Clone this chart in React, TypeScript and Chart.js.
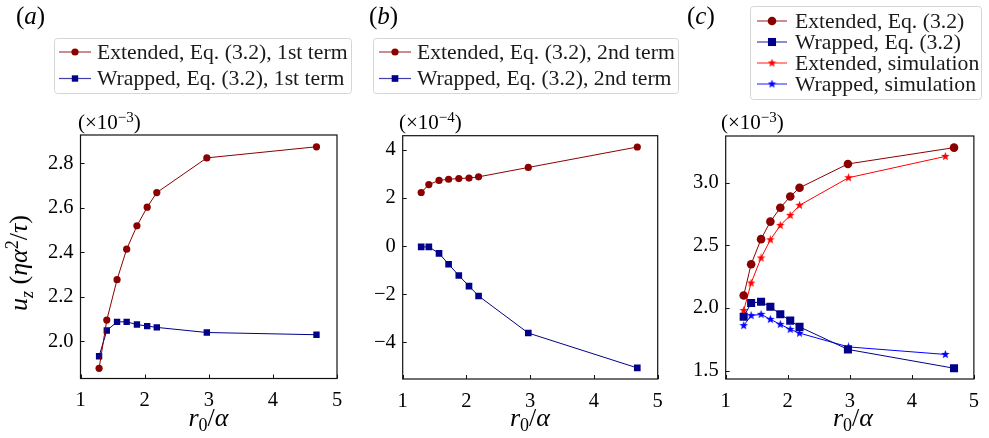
import React, { useEffect, useRef } from 'react';
import { Chart, registerables } from 'chart.js';

Chart.register(...registerables);

// ---------- data ----------
const xEq = [1.29, 1.41, 1.57, 1.72, 1.88, 2.04, 2.19, 2.97, 4.68];
const xSim = [1.29, 1.41, 1.57, 1.72, 1.88, 2.04, 2.19, 2.98, 4.54];

// panel (a), units of 1e-3
const aExtended = [1.878, 2.095, 2.277, 2.414, 2.519, 2.603, 2.669, 2.825, 2.875];
const aWrapped = [1.932, 2.048, 2.087, 2.087, 2.075, 2.068, 2.062, 2.039, 2.029];
// panel (b), units of 1e-4
const bExtended = [2.23, 2.56, 2.73, 2.78, 2.81, 2.83, 2.88, 3.27, 4.12];
const bWrapped = [-0.03, -0.03, -0.3, -0.75, -1.22, -1.66, -2.07, -3.61, -5.06];
// panel (c), units of 1e-3
const cExtended = [2.1, 2.35, 2.55, 2.69, 2.8, 2.89, 2.96, 3.15, 3.28];
const cWrapped = [1.93, 2.04, 2.05, 2.01, 1.95, 1.9, 1.85, 1.67, 1.52];
const cExtSim = [1.98, 2.2, 2.4, 2.545, 2.66, 2.74, 2.82, 3.04, 3.21];
const cWrapSim = [1.86, 1.94, 1.95, 1.91, 1.87, 1.83, 1.8, 1.69, 1.63];

const xTicks = [1, 2, 3, 4, 5];
const aTicks = [2.0, 2.2, 2.4, 2.6, 2.8];
const bTicks = [-4, -2, 0, 2, 4];
const cTicks = [1.5, 2.0, 2.5, 3.0];

const aLabels = ['Extended, Eq. (3.2), 1st term', 'Wrapped, Eq. (3.2), 1st term'];
const bLabels = ['Extended, Eq. (3.2), 2nd term', 'Wrapped, Eq. (3.2), 2nd term'];
const cLabels = ['Extended, Eq. (3.2)', 'Wrapped, Eq. (3.2)', 'Extended, simulation', 'Wrapped, simulation'];

const DARKRED = '#8b0000';
const DARKBLUE = '#00008b';
const RED = '#ff0000';
const BLUE = '#0000ff';

const FONT = "'Liberation Serif', 'Times New Roman', serif";

// ---------- helpers ----------
function makeStar(color: string, size: number) {
  const c = document.createElement('canvas');
  c.width = size;
  c.height = size;
  const g = c.getContext('2d')!;
  const cx = size / 2, cy = size / 2, R = size / 2, r = R * 0.42;
  g.beginPath();
  for (let i = 0; i < 10; i++) {
    const ang = -Math.PI / 2 + (i * Math.PI) / 5;
    const rad = i % 2 === 0 ? R : r;
    const px = cx + rad * Math.cos(ang), py = cy + rad * Math.sin(ang);
    if (i === 0) g.moveTo(px, py); else g.lineTo(px, py);
  }
  g.closePath();
  g.fillStyle = color;
  g.fill();
  return c;
}

function toPts(xs: number[], ys: number[]) {
  return xs.map((x, i) => ({ x, y: ys[i] }));
}

const framePlugin = {
  id: 'frame',
  afterDatasetsDraw(chart: any) {
    const { ctx, chartArea: a, scales } = chart;
    ctx.save();
    ctx.strokeStyle = '#111';
    ctx.lineWidth = 1.2;
    ctx.strokeRect(a.left, a.top, a.right - a.left, a.bottom - a.top);
    ctx.lineWidth = 1;
    ctx.beginPath();
    scales.x.ticks.forEach((t: any) => {
      const px = Math.round(scales.x.getPixelForValue(t.value)) + 0.5;
      ctx.moveTo(px, a.bottom);
      ctx.lineTo(px, a.bottom - 4);
    });
    scales.y.ticks.forEach((t: any) => {
      const py = Math.round(scales.y.getPixelForValue(t.value)) + 0.5;
      ctx.moveTo(a.left, py);
      ctx.lineTo(a.left + 4, py);
    });
    ctx.stroke();
    ctx.restore();
  },
};

function drawMarker(ctx: CanvasRenderingContext2D, style: any, r: number, x: number, y: number, color: string) {
  ctx.save();
  ctx.fillStyle = color;
  if (style === 'circle') {
    ctx.beginPath();
    ctx.arc(x, y, r, 0, Math.PI * 2);
    ctx.fill();
  } else if (style === 'rect') {
    const s = r * Math.SQRT1_2;
    ctx.fillRect(x - s, y - s, 2 * s, 2 * s);
  } else if (style && style.width) {
    ctx.drawImage(style, x - style.width / 2, y - style.height / 2);
  }
  ctx.restore();
}

const legendPlugin = {
  id: 'boxLegend',
  afterDraw(chart: any, _args: any, opts: any) {
    const { ctx } = chart;
    const { x, y, w, h, rows, lx0, lx1, tx } = opts;
    ctx.save();
    const rad = 3;
    ctx.beginPath();
    ctx.moveTo(x + rad, y);
    ctx.lineTo(x + w - rad, y);
    ctx.arcTo(x + w, y, x + w, y + rad, rad);
    ctx.lineTo(x + w, y + h - rad);
    ctx.arcTo(x + w, y + h, x + w - rad, y + h, rad);
    ctx.lineTo(x + rad, y + h);
    ctx.arcTo(x, y + h, x, y + h - rad, rad);
    ctx.lineTo(x, y + rad);
    ctx.arcTo(x, y, x + rad, y, rad);
    ctx.closePath();
    ctx.fillStyle = 'rgba(255,255,255,0.85)';
    ctx.fill();
    ctx.strokeStyle = '#d6d6d6';
    ctx.lineWidth = 1;
    ctx.stroke();
    chart.data.datasets.forEach((ds: any, i: number) => {
      const ry = rows[i];
      ctx.strokeStyle = ds.borderColor;
      ctx.globalAlpha = 0.75;
      ctx.lineWidth = 1.2;
      ctx.beginPath();
      ctx.moveTo(lx0, ry);
      ctx.lineTo(lx1, ry);
      ctx.stroke();
      ctx.globalAlpha = 1;
      drawMarker(ctx, ds.pointStyle, ds.pointRadius, (lx0 + lx1) / 2, ry, ds.backgroundColor);
      ctx.fillStyle = '#1a1a1a';
      ctx.font = `21.7px ${FONT}`;
      ctx.textBaseline = 'middle';
      ctx.textAlign = 'left';
      ctx.fillText(ds.label, tx, ry + 1);
    });
    ctx.restore();
  },
};

type PanelProps = {
  left: number;
  width: number;
  area: { l: number; r: number; t: number; b: number };
  yMin: number;
  yMax: number;
  yTicks: number[];
  yFmt: (v: number) => string;
  datasets: any[];
  legend: any;
};

function Panel(p: PanelProps) {
  const ref = useRef<HTMLCanvasElement | null>(null);
  useEffect(() => {
    const H = 438;
    const yAxisW = 40;
    const xAxisH = 40;
    const legend = { ...p.legend };
    legend.x -= p.left;
    legend.lx0 -= p.left;
    legend.lx1 -= p.left;
    legend.tx -= p.left;
    const chart = new Chart(ref.current!, {
      type: 'line',
      data: { datasets: p.datasets },
      options: {
        animation: false,
        responsive: false,
        maintainAspectRatio: false,
        events: [],
        layout: {
          padding: {
            left: p.area.l - p.left - yAxisW,
            right: p.left + p.width - p.area.r,
            top: p.area.t,
            bottom: H - p.area.b - xAxisH,
          },
        },
        plugins: {
          legend: { display: false },
          tooltip: { enabled: false },
          boxLegend: legend,
        } as any,
        scales: {
          x: {
            type: 'linear',
            min: 1,
            max: 5,
            grid: { display: false, drawTicks: false },
            border: { display: false },
            ticks: {
              padding: 10,
              color: '#000',
              font: { family: FONT, size: 20.5 },
              callback: (v: any) => String(v),
            },
            afterBuildTicks: (s: any) => {
              s.ticks = xTicks.map((v) => ({ value: v }));
            },
            afterFit: (s: any) => {
              s.height = xAxisH;
            },
          },
          y: {
            type: 'linear',
            min: p.yMin,
            max: p.yMax,
            grid: { display: false, drawTicks: false },
            border: { display: false },
            ticks: {
              padding: 7,
              color: '#000',
              font: { family: FONT, size: 20.5 },
              callback: (v: any) => p.yFmt(Number(v)),
            },
            afterBuildTicks: (s: any) => {
              s.ticks = p.yTicks.map((v) => ({ value: v }));
            },
            afterFit: (s: any) => {
              s.width = yAxisW;
            },
          },
        },
      },
      plugins: [framePlugin, legendPlugin],
    } as any);
    return () => chart.destroy();
  }, []);
  return (
    <canvas
      ref={ref}
      width={p.width}
      height={438}
      style={{ position: 'absolute', left: p.left, top: 0, width: p.width, height: 438 }}
    />
  );
}

function ds(label: string, xs: number[], ys: number[], color: string, style: any, r: number) {
  return {
    label,
    data: toPts(xs, ys),
    borderColor: color,
    backgroundColor: color,
    borderWidth: 1,
    pointStyle: style,
    pointRadius: r,
    pointBorderWidth: 0,
    tension: 0,
    fill: false,
  };
}

const mathI: React.CSSProperties = { fontStyle: 'italic' };

function ExpLabel({ left, top, exp }: { left: number; top: number; exp: string }) {
  return (
    <div style={{ position: 'absolute', left, top, fontFamily: FONT, fontSize: 21, lineHeight: '22px', whiteSpace: 'nowrap', color: '#000' }}>
      (×10<sup style={{ fontSize: 15, verticalAlign: 0, position: 'relative', top: -7 }}>{exp}</sup>)
    </div>
  );
}

function PanelTag({ left, letter }: { left: number; letter: string }) {
  return (
    <div style={{ position: 'absolute', left, top: 3, fontFamily: FONT, fontSize: 25, lineHeight: '26px', color: '#000' }}>
      (<span style={mathI}>{letter}</span>)
    </div>
  );
}

function XTitle({ center }: { center: number }) {
  return (
    <div
      style={{
        position: 'absolute',
        left: center,
        top: 404,
        transform: 'translateX(-50%)',
        fontFamily: FONT,
        fontSize: 26,
        lineHeight: '28px',
        whiteSpace: 'nowrap',
        color: '#000',
      }}
    >
      <span style={mathI}>r</span>
      <sub style={{ fontSize: 18, verticalAlign: 0, position: 'relative', top: 5 }}>0</sub>
      /<span style={mathI}>α</span>
    </div>
  );
}

export default function App() {
  const star = (c: string, s: number) => (typeof document !== 'undefined' ? makeStar(c, s) : 'star');
  const aSets = [
    ds(aLabels[0], xEq, aExtended, DARKRED, 'circle', 3.6),
    ds(aLabels[1], xEq, aWrapped, DARKBLUE, 'rect', 4.5),
  ];
  const bSets = [
    ds(bLabels[0], xEq, bExtended, DARKRED, 'circle', 3.6),
    ds(bLabels[1], xEq, bWrapped, DARKBLUE, 'rect', 4.7),
  ];
  const cSets = [
    ds(cLabels[0], xEq, cExtended, DARKRED, 'circle', 4.3),
    ds(cLabels[1], xEq, cWrapped, DARKBLUE, 'rect', 5.7),
    ds(cLabels[2], xSim, cExtSim, RED, star(RED, 9), 4.5),
    ds(cLabels[3], xSim, cWrapSim, BLUE, star(BLUE, 9), 4.5),
  ];
  return (
    <div style={{ position: 'absolute', left: 0, top: 0, width: 989, height: 438, background: '#fff', overflow: 'hidden' }}>
      <Panel
        left={0}
        width={360}
        area={{ l: 80.5, r: 337, t: 135, b: 378.5 }}
        yMin={1.832}
        yMax={2.928}
        yTicks={aTicks}
        yFmt={(v) => v.toFixed(1)}
        datasets={aSets}
        legend={{ x: 54.5, y: 38.5, w: 297, h: 55, rows: [52, 78.5], lx0: 59, lx1: 91, tx: 97 }}
      />
      <Panel
        left={360}
        width={325}
        area={{ l: 402.7, r: 657.7, t: 135.7, b: 379 }}
        yMin={-5.52}
        yMax={4.59}
        yTicks={bTicks}
        yFmt={(v) => (v < 0 ? '\u2212' + Math.abs(v) : String(v))}
        datasets={bSets}
        legend={{ x: 373.5, y: 38.5, w: 305, h: 55, rows: [52, 78.5], lx0: 379, lx1: 411, tx: 417 }}
      />
      <Panel
        left={685}
        width={304}
        area={{ l: 725.7, r: 980, t: 136, b: 379 }}
        yMin={1.434}
        yMax={3.373}
        yTicks={cTicks}
        yFmt={(v) => v.toFixed(1)}
        datasets={cSets}
        legend={{ x: 750.5, y: 6.5, w: 231, h: 93, rows: [21, 42, 63, 84], lx0: 757, lx1: 787, tx: 795 }}
      />
      <PanelTag left={16} letter="a" />
      <PanelTag left={369} letter="b" />
      <PanelTag left={687} letter="c" />
      <ExpLabel left={78} top={111} exp="−3" />
      <ExpLabel left={399} top={111} exp="−4" />
      <ExpLabel left={721} top={111} exp="−3" />
      <XTitle center={208.5} />
      <XTitle center={530} />
      <XTitle center={853} />
      <div
        style={{
          position: 'absolute',
          left: 20,
          top: 263,
          transform: 'translate(-50%, -50%) rotate(-90deg)',
          fontFamily: FONT,
          fontSize: 26,
          lineHeight: '28px',
          whiteSpace: 'nowrap',
          color: '#000',
        }}
      >
        <span style={mathI}>u</span>
        <sub style={{ fontSize: 18, verticalAlign: 0, position: 'relative', top: 6, fontStyle: 'italic' }}>z</sub>
        {' '}(<span style={mathI}>ηα</span>
        <sup style={{ fontSize: 18, verticalAlign: 0, position: 'relative', top: -9 }}>2</sup>
        /<span style={mathI}>τ</span>)
      </div>
    </div>
  );
}
